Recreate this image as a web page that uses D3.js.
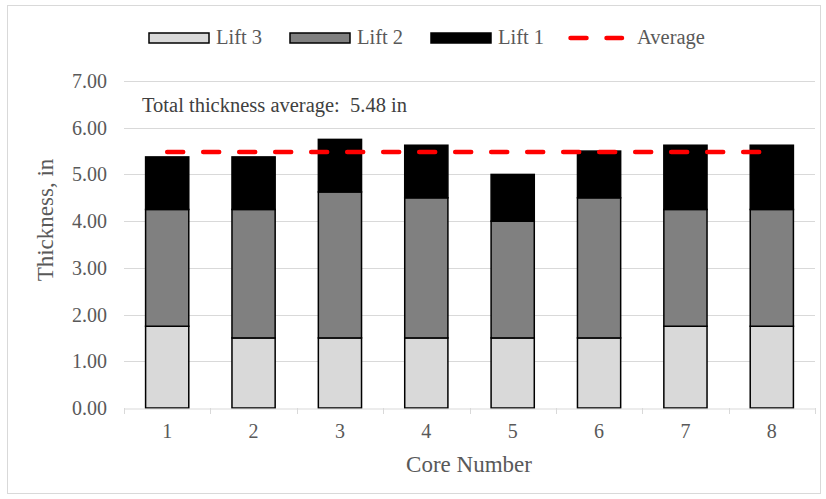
<!DOCTYPE html>
<html>
<head>
<meta charset="utf-8">
<script src="https://cdn.jsdelivr.net/npm/d3@7"></script>
<style>
  body { margin: 0; background: #fff; }
  svg { display: block; }
</style>
</head>
<body>
<div id="chart"></div>
<script>
// chart data
const cores = ["1", "2", "3", "4", "5", "6", "7", "8"];
const lift3 = [1.75, 1.5, 1.5, 1.5, 1.5, 1.5, 1.75, 1.75];
const lift2 = [2.5, 2.75, 3.125, 3.0, 2.5, 3.0, 2.5, 2.5];
const lift1 = [1.125, 1.125, 1.125, 1.125, 1.0, 1.0, 1.375, 1.375];
const avgValue = 5.48;
const yTicks = [0, 1, 2, 3, 4, 5, 6, 7];

const seriesNames = ["Lift 3", "Lift 2", "Lift 1"];
const seriesFill = { "Lift 3": "#d9d9d9", "Lift 2": "#808080", "Lift 1": "#000000" };
const font = "'Liberation Serif', 'Times New Roman', serif";
const textColor = "#595959";

const W = 826, H = 499;
const margin = { left: 124, right: 11, top: 81, bottom: 91 };

const svg = d3.select("#chart")
  .append("svg")
  .attr("width", W)
  .attr("height", H);

// chart frame
svg.append("rect")
  .attr("x", 7.5).attr("y", 5.5)
  .attr("width", W - 13).attr("height", H - 11)
  .attr("fill", "none")
  .attr("stroke", "#d9d9d9");

const x = d3.scaleBand()
  .domain(cores)
  .range([margin.left, W - margin.right])
  .paddingInner(0.5)
  .paddingOuter(0.25);

const xb = d3.scaleBand()
  .domain(cores)
  .range([margin.left, W - margin.right]);

const y = d3.scaleLinear()
  .domain([0, 7])
  .range([H - margin.bottom, margin.top]);

// gridlines
svg.append("g")
  .selectAll("line")
  .data(yTicks.slice(1))
  .enter()
  .append("line")
  .attr("x1", margin.left)
  .attr("x2", W - margin.right)
  .attr("y1", d => Math.round(y(d)) + 0.5)
  .attr("y2", d => Math.round(y(d)) + 0.5)
  .attr("stroke", "#d9d9d9")
  .attr("stroke-width", 1);

// y axis labels
svg.append("g")
  .selectAll("text")
  .data(yTicks)
  .enter()
  .append("text")
  .attr("x", 107)
  .attr("y", d => y(d) + 7)
  .attr("text-anchor", "end")
  .attr("font-family", font)
  .attr("font-size", 20)
  .attr("fill", textColor)
  .text(d => d.toFixed(2));

// stacked bars
const rows = cores.map((c, i) => ({ core: c, "Lift 3": lift3[i], "Lift 2": lift2[i], "Lift 1": lift1[i] }));
const stacked = d3.stack().keys(seriesNames)(rows);

svg.append("g")
  .selectAll("g")
  .data(stacked)
  .enter()
  .append("g")
  .attr("fill", d => seriesFill[d.key])
  .selectAll("rect")
  .data(d => d)
  .enter()
  .append("rect")
  .attr("x", d => x(d.data.core))
  .attr("y", d => y(d[1]))
  .attr("width", x.bandwidth())
  .attr("height", d => y(d[0]) - y(d[1]))
  .attr("stroke", "#000")
  .attr("stroke-width", 1.5);

// x axis
const xAxis = svg.append("g")
  .attr("transform", `translate(0,${Math.round(y(0)) + 0.5})`)
  .call(d3.axisBottom(xb).tickSize(0).tickFormat(""));
xAxis.select(".domain").attr("stroke", "#d9d9d9");
xAxis.selectAll(".tick").remove();

const boundaries = cores.map(c => xb(c)).concat([W - margin.right]);
svg.append("g")
  .selectAll("line")
  .data(boundaries)
  .enter()
  .append("line")
  .attr("x1", d => Math.round(d) + 0.5)
  .attr("x2", d => Math.round(d) + 0.5)
  .attr("y1", Math.round(y(0)))
  .attr("y2", Math.round(y(0)) + 6)
  .attr("stroke", "#d9d9d9");

svg.append("g")
  .selectAll("text")
  .data(cores)
  .enter()
  .append("text")
  .attr("x", d => xb(d) + xb.bandwidth() / 2)
  .attr("y", 438)
  .attr("text-anchor", "middle")
  .attr("font-family", font)
  .attr("font-size", 20)
  .attr("fill", textColor)
  .text(d => d);

// average line
const line = d3.line()
  .x(d => xb(d) + xb.bandwidth() / 2)
  .y(() => y(avgValue));

svg.append("path")
  .datum(cores)
  .attr("d", line)
  .attr("fill", "none")
  .attr("stroke", "#ff0000")
  .attr("stroke-width", 4.5)
  .attr("stroke-linecap", "round")
  .attr("stroke-dasharray", "16,20");

// annotation
svg.append("text")
  .attr("x", 142)
  .attr("y", 112)
  .attr("font-family", font)
  .attr("font-size", 20.5)
  .attr("fill", "#404040")
  .attr("xml:space", "preserve")
  .style("white-space", "pre")
  .text("Total thickness average:  5.48 in");

// axis titles
svg.append("text")
  .attr("x", 469)
  .attr("y", 472)
  .attr("text-anchor", "middle")
  .attr("font-family", font)
  .attr("font-size", 23)
  .attr("fill", textColor)
  .text("Core Number");

svg.append("text")
  .attr("transform", "translate(53,220) rotate(-90)")
  .attr("text-anchor", "middle")
  .attr("font-family", font)
  .attr("font-size", 23)
  .attr("fill", textColor)
  .text("Thickness, in");

// legend
const legendItems = [
  { name: "Lift 3", x: 149, type: "box" },
  { name: "Lift 2", x: 290, type: "box" },
  { name: "Lift 1", x: 431, type: "box" },
  { name: "Average", x: 568, type: "line" }
];

const legend = svg.append("g");
legendItems.forEach(it => {
  if (it.type === "box") {
    legend.append("rect")
      .attr("x", it.x)
      .attr("y", 33)
      .attr("width", 60)
      .attr("height", 10)
      .attr("fill", seriesFill[it.name])
      .attr("stroke", "#000")
      .attr("stroke-width", 1.5);
  } else {
    legend.append("line")
      .attr("x1", it.x + 2.5)
      .attr("x2", it.x + 54)
      .attr("y1", 38)
      .attr("y2", 38)
      .attr("stroke", "#ff0000")
      .attr("stroke-width", 4.5)
      .attr("stroke-linecap", "round")
      .attr("stroke-dasharray", "16,20");
  }
  legend.append("text")
    .attr("x", it.x + (it.type === "box" ? 67 : 69))
    .attr("y", 44)
    .attr("font-family", font)
    .attr("font-size", 20.5)
    .attr("fill", textColor)
    .text(it.name);
});
</script>
</body>
</html>
